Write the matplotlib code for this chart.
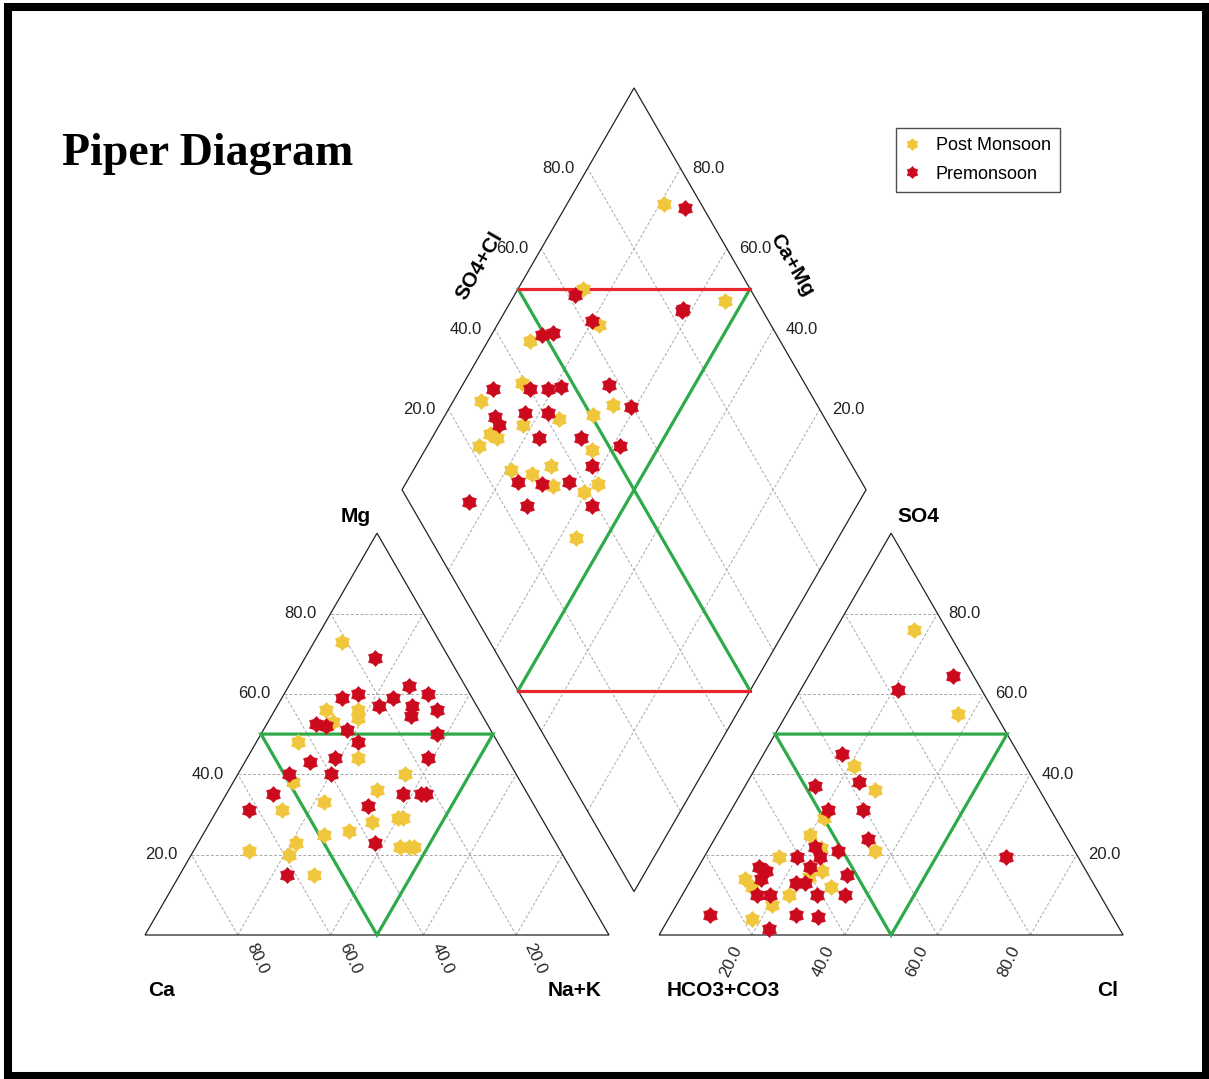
import numpy as np
import matplotlib.pyplot as plt
from matplotlib.path import Path
from matplotlib.patches import Rectangle, Polygon

# cation triangle (% meq): Mg and Na+K, Ca is the remainder
post_mg = [73, 56, 53, 56, 54, 48, 44, 38, 40, 36, 33, 31, 28, 29, 29, 26, 25, 23, 21, 20, 22, 22, 22, 15]
post_nak = [6, 11, 14, 18, 19, 9, 24, 13, 36, 32, 22, 14, 35, 40, 41, 31, 26, 21, 12, 21, 44, 46, 47, 29]
pre_mg = [69, 59, 60, 62, 60, 57, 59, 57, 54.5, 56, 52.5, 52, 51, 50, 48, 43, 44, 44, 40, 40,
          35, 35, 35, 35, 31, 32, 23, 15]
pre_nak = [15, 13, 16, 26, 31, 22, 24, 29, 30, 35, 10.5, 13, 18, 38, 22, 14, 19, 39, 11, 20,
           10, 38, 42, 43, 7, 32, 38, 23]

# anion triangle (% meq): SO4 and Cl, HCO3+CO3 is the remainder
post_so4 = [25, 19.5, 14, 4, 7.5, 10, 21.6, 16, 12, 14.5, 12, 76, 55, 42, 36, 29, 21]
post_cl = [20, 16, 11.5, 18, 20.5, 23, 24, 27, 31, 25, 14, 17, 37, 21, 28.5, 21, 36]
pre_so4 = [5, 1.4, 5, 4.4, 17, 16, 14, 10, 10, 13, 13, 19.5, 22, 19.5, 17, 21, 15, 10, 10, 24,
           64.5, 61, 45, 38, 37, 31, 31, 19.5]
pre_cl = [8.5, 23, 27, 32, 13, 15, 15, 16, 19, 23, 25, 20, 22.5, 25, 24, 28, 33, 29, 35, 33,
          31, 21, 17, 24, 15, 21, 28.5, 65]

# diamond: Ca+Mg and SO4+Cl
post_camg = [79, 86, 78, 54, 91, 87.5, 94, 65, 75, 68, 82, 88, 86, 89, 64, 71, 79, 74, 68, 60.5, 58.5, 56.5]
post_so4cl = [92, 64, 63, 93, 46, 39, 28, 56, 42.5, 50.5, 34, 26, 27, 22, 46, 35, 26, 30, 33, 39, 43, 31.5]
pre_camg = [74, 87, 80, 62, 62, 89, 87, 93, 85, 81, 78.5, 68.5, 61, 89, 83, 78, 87, 77, 68, 58.5,
            62, 76, 70.5, 65, 84, 71, 57]
pre_so4cl = [96, 61.5, 62, 83, 82.5, 49.5, 52, 32, 40, 44, 47, 57.5, 59.5, 29, 36, 41, 29, 36, 45, 52.5,
             44, 26, 31, 37, 13, 25, 39]

series = ['Post Monsoon', 'Premonsoon']
ticks = [20, 40, 60, 80]

W, H = 1209, 1079
PX = 4.64           # pixels per percent unit
X0, Y0 = 145, 935   # pixel position of the Ca corner
S3 = np.sqrt(3) / 2
GAP = 10.8
BX, BY = 100 + GAP / 2, GAP * S3   # bottom corner of the diamond

YELLOW = '#F0C63C'
RED = '#CC0A1E'
GREEN = '#2EAA4A'
LINE_RED = '#E8262B'
SANS = ['Liberation Sans', 'DejaVu Sans']


def cat_xy(mg, nak):
    mg, nak = np.asarray(mg, float), np.asarray(nak, float)
    return nak + mg / 2, mg * S3


def an_xy(so4, cl):
    so4, cl = np.asarray(so4, float), np.asarray(cl, float)
    return 100 + GAP + cl + so4 / 2, so4 * S3


def dia_xy(camg, so4cl):
    s, t = np.asarray(camg, float) / 100, np.asarray(so4cl, float) / 100
    return BX + 50 * (t - s), BY + 100 * S3 * (s + t)


def seg(f, a, b, **kw):
    x0, y0 = f(*a)
    x1, y1 = f(*b)
    ax.plot([x0, x1], [y0, y1], **kw)


fig = plt.figure(figsize=(W / 100, H / 100), dpi=100)
ax = fig.add_axes([0, 0, 1, 1])
ax.set_xlim(-X0 / PX, (W - X0) / PX)
ax.set_ylim(-(H - Y0) / PX, Y0 / PX)
ax.axis('off')

grid = dict(color='#a8a8a8', lw=0.7, ls=(0, (3, 2)), zorder=1)
edge = dict(color='#222222', lw=0.9, zorder=2)

# grids
for p in ticks:
    for f in (cat_xy, an_xy):
        seg(f, (p, 0), (p, 100 - p), **grid)
        seg(f, (0, p), (100 - p, p), **grid)
        seg(f, (0, 100 - p), (100 - p, 0), **grid)
    seg(dia_xy, (p, 0), (p, 100), **grid)
    seg(dia_xy, (0, p), (100, p), **grid)

# outlines
for f, corners in ((cat_xy, [(0, 0), (0, 100), (100, 0)]),
                   (an_xy, [(0, 0), (0, 100), (100, 0)]),
                   (dia_xy, [(0, 0), (100, 0), (100, 100), (0, 100)])):
    pts = np.array([f(*c) for c in corners])
    ax.add_patch(Polygon(pts, closed=True, fill=False, **edge))

# classification lines
green = dict(color=GREEN, lw=2.3, zorder=3, solid_capstyle='round')
for f in (cat_xy, an_xy):
    pts = np.array([f(50, 0), f(50, 50), f(0, 50)])
    ax.add_patch(Polygon(pts, closed=True, fill=False, ec=GREEN, lw=2.3, zorder=3))
seg(dia_xy, (100, 50), (0, 50), **green)
seg(dia_xy, (50, 100), (50, 0), **green)
seg(dia_xy, (100, 50), (50, 100), color=LINE_RED, lw=2.3, zorder=3)
seg(dia_xy, (50, 0), (0, 50), color=LINE_RED, lw=2.3, zorder=3)

# six-point star marker, fairly chunky
star = Path.unit_regular_star(6, 0.72)
mk = dict(ls='none', marker=star, ms=11.5, mew=0.4, zorder=5)

handles = []
for name, col, cat, an, dia in (
        (series[0], YELLOW, (post_mg, post_nak), (post_so4, post_cl), (post_camg, post_so4cl)),
        (series[1], RED, (pre_mg, pre_nak), (pre_so4, pre_cl), (pre_camg, pre_so4cl))):
    h, = ax.plot(*cat_xy(*cat), color=col, mec=col, label=name, **mk)
    ax.plot(*an_xy(*an), color=col, mec=col, **mk)
    ax.plot(*dia_xy(*dia), color=col, mec=col, **mk)
    handles.append(h)

# tick labels
tk = dict(textcoords='offset pixels', fontsize=12, color='#222222', family=SANS)
for p in ticks:
    lab = f'{p:.1f}'
    ax.annotate(lab, cat_xy(p, 0), xytext=(-14, 0), ha='right', va='center', **tk)
    ax.annotate(lab, an_xy(p, 100 - p), xytext=(11, 0), ha='left', va='center', **tk)
    ax.annotate(lab, dia_xy(100, p), xytext=(-13, 0), ha='right', va='center', **tk)
    ax.annotate(lab, dia_xy(p, 100), xytext=(12, 0), ha='left', va='center', **tk)
    ax.annotate(lab, cat_xy(0, 100 - p), xytext=(19, -24), ha='center', va='center',
                rotation=-65, **tk)
    ax.annotate(lab, an_xy(0, p), xytext=(-21, -26), ha='center', va='center',
                rotation=65, **tk)

# axis titles
lb = dict(fontsize=15, fontweight='bold', family=SANS, ha='center', va='center')
for px, py, txt, rot in ((356, 516, 'Mg', 0), (918, 516, 'SO4', 0),
                         (162, 991, 'Ca', 0), (575, 991, 'Na+K', 0),
                         (723, 991, 'HCO3+CO3', 0), (1108, 991, 'Cl', 0),
                         (479, 266, 'SO4+Cl', 60), (792, 265, 'Ca+Mg', -60)):
    fig.text(px / W, 1 - py / H, txt, rotation=rot, **lb)

fig.text(62 / W, 1 - 165 / H, 'Piper Diagram', fontsize=33, fontweight='bold',
         family=['Liberation Serif', 'DejaVu Serif'], ha='left', va='baseline')

leg = ax.legend(handles, series, loc='upper left', bbox_to_anchor=(896 / W, 1 - 128 / H),
                bbox_transform=fig.transFigure, borderaxespad=0,
                prop={'family': SANS, 'size': 13}, fancybox=False, edgecolor='#222222',
                handlelength=0.8, handletextpad=0.9, borderpad=0.5, labelspacing=0.65,
                markerscale=0.75)
leg.get_frame().set_linewidth(1.0)

# outer frame
fig.patches.append(Rectangle((8 / W, 3 / H), 1198 / W, 1069 / H, transform=fig.transFigure,
                             fill=False, ec='black', lw=5.8))

fig.savefig('out.png', dpi=100)
